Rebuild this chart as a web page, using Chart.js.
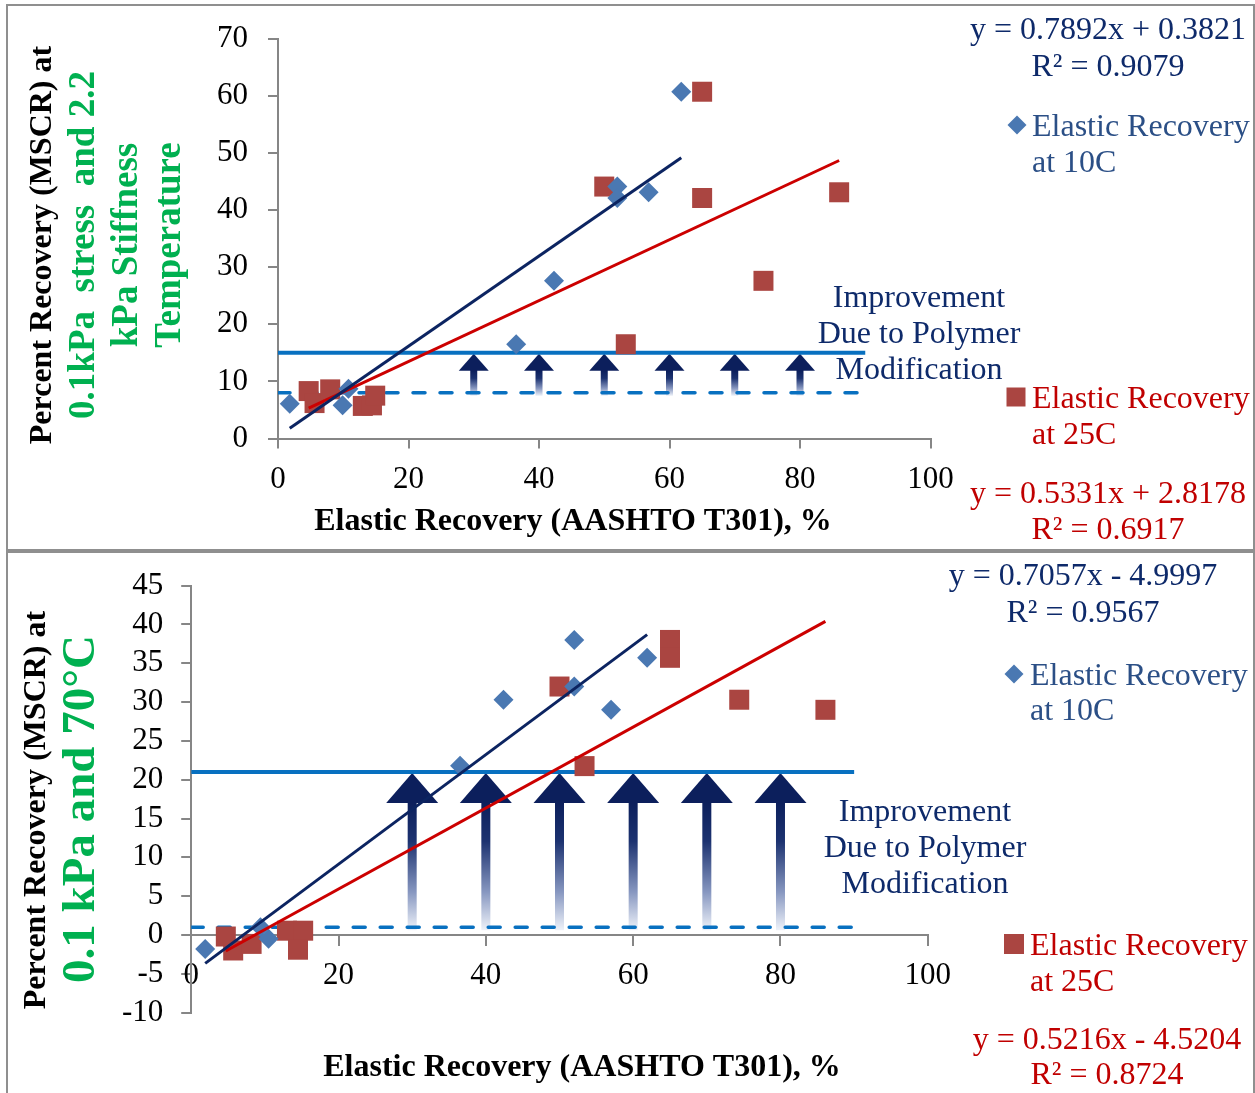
<!DOCTYPE html>
<html>
<head>
<meta charset="utf-8">
<title>MSCR recovery vs elastic recovery</title>
<script src="https://cdn.jsdelivr.net/npm/chart.js@4.4.1/dist/chart.umd.min.js"></script>
<style>
  body { margin: 0; background: #fff; }
  #page { position: relative; width: 1255px; height: 1093px; overflow: hidden; }
  #page canvas { position: absolute; left: 0; }
  .frame { position: absolute; left: 6px; width: 1249px; border: 2px solid #8f8f8f; box-sizing: border-box; pointer-events: none; }
</style>
</head>
<body>
<div id="page">
  <canvas id="mscrUpper" width="1255" height="549" style="top:0"></canvas>
  <canvas id="mscrLower" width="1255" height="544" style="top:549px"></canvas>
  <div class="frame" style="top:4px;height:547px"></div>
  <div class="frame" style="top:551px;height:560px"></div>
</div>
<script>
// x = elastic recovery (AASHTO T301), y = MSCR percent recovery
// upper plot: 0.1 kPa stress at the 2.2 kPa stiffness temperature
const er10C_upper   = [1.8, 9.9, 10.8, 36.5, 42.3, 52.0, 52.0, 56.8, 61.8];
const mscr10C_upper = [6.1, 5.8, 8.7, 16.5, 27.6, 44.1, 42.1, 43.1, 60.7];
const er25C_upper   = [4.7, 5.6, 8.0, 13.0, 14.4, 14.9, 50.0, 53.3, 65.0, 65.0, 74.4, 86.0];
const mscr25C_upper = [8.3, 6.2, 8.6, 5.7, 5.8, 7.5, 44.1, 16.5, 60.7, 42.1, 27.6, 43.1];
const fit10C_upper  = [0.7892, 0.3821, 0.9079];   // slope, intercept, R²
const fit25C_upper  = [0.5331, 2.8178, 0.6917];
const limits_upper  = [8, 15];                     // unmodified / modified recovery

// lower plot: 0.1 kPa at 70°C
const er10C_lower   = [1.9, 9.4, 10.5, 36.5, 42.4, 52.0, 52.0, 57.0, 61.9];
const mscr10C_lower = [-1.8, 1.0, -0.5, 21.8, 30.3, 38.0, 32.0, 29.0, 35.7];
const er25C_lower   = [4.7, 5.7, 8.2, 13.0, 15.2, 14.5, 50.0, 53.4, 65.0, 65.0, 74.4, 86.1];
const mscr25C_lower = [-0.2, -2.0, -1.15, 0.55, 0.55, -1.9, 32.0, 21.75, 38.0, 35.7, 30.3, 29.0];
const fit10C_lower  = [0.7057, -4.9997, 0.9567];
const fit25C_lower  = [0.5216, -4.5204, 0.8724];
const limits_lower  = [1, 21];

const arrowAt   = [30, 40, 50, 60, 70, 80];
const limitSpan = [0, 90];
const xRange       = [0, 100, 20];   // min, max, step
const yRange_upper = [0, 70, 10];
const yRange_lower = [-10, 45, 5];

Chart.defaults.font.family = "'Liberation Serif', 'Times New Roman', serif";
Chart.defaults.color = '#000';

const SERIF = "'Liberation Serif', 'Times New Roman', serif";
const NAVY = '#0e2a6a', LEGEND_BLUE = '#2b4f86', RED_TXT = '#c00000', GREEN = '#00b050';
const DIAMOND = '#4a78b2', SQUARE = '#aa4541', LIMIT = '#0870c0';
const FIT10 = '#0c2461', FIT25 = '#cc0000', AXIS = '#868686', ARROW = '#0c1f5c';

function pairs(xs, ys) { return xs.map((x, i) => ({ x: x, y: ys[i] })); }

// trendline across the x range of its series
function fitLine(xs, fit) {
  const lo = Math.min(...xs), hi = Math.max(...xs);
  return [{ x: lo, y: fit[0] * lo + fit[1] }, { x: hi, y: fit[0] * hi + fit[1] }];
}
function eqText(fit) {
  const sign = fit[1] < 0 ? ' - ' : ' + ';
  return 'y = ' + fit[0].toFixed(4) + 'x' + sign + Math.abs(fit[1]).toFixed(4);
}
function r2Text(fit) { return 'R\u00B2 = ' + fit[2].toFixed(4); }

// gradient "improvement" arrows from the lower limit up to the upper one
function arrowsPlugin(limits, head, shaft) {
  return {
    id: 'arrows',
    beforeDatasetsDraw(chart) {
      const { ctx, scales: { x, y } } = chart;
      const yTip = y.getPixelForValue(limits[1]) + 1;
      const yNeck = yTip + head.len;
      const yBase = y.getPixelForValue(limits[0]) + 3;
      ctx.save();
      arrowAt.forEach(v => {
        const px = x.getPixelForValue(v);
        const g = ctx.createLinearGradient(0, yNeck, 0, yBase);
        g.addColorStop(0, ARROW);
        g.addColorStop(0.3, '#1c3270');
        g.addColorStop(0.7, '#8797c0');
        g.addColorStop(1, '#eef2f9');
        ctx.fillStyle = g;
        ctx.fillRect(px - shaft / 2, yNeck - 1, shaft, yBase - yNeck + 1);
        ctx.fillStyle = ARROW;
        ctx.beginPath();
        ctx.moveTo(px, yTip);
        ctx.lineTo(px + head.half, yNeck);
        ctx.lineTo(px - head.half, yNeck);
        ctx.closePath();
        ctx.fill();
      });
      ctx.restore();
    }
  };
}

// titles, equations and legend, placed in page coordinates
function labelsPlugin(items, markers, offset) {
  return {
    id: 'labels',
    afterDraw(chart) {
      const ctx = chart.ctx;
      items.forEach(it => {
        ctx.save();
        ctx.font = it.font;
        ctx.fillStyle = it.color;
        ctx.textAlign = it.align || 'center';
        ctx.textBaseline = 'middle';
        if (it.vertical) {
          ctx.translate(it.x, it.y - offset);
          ctx.rotate(-Math.PI / 2);
        } else {
          ctx.translate(it.x, it.y - offset + 2);
        }
        ctx.fillText(it.text, 0, 0);
        ctx.restore();
      });
      markers.forEach(m => {
        const cy = m.y - offset;
        ctx.save();
        ctx.fillStyle = m.color;
        ctx.beginPath();
        if (m.shape === 'diamond') {
          ctx.moveTo(m.x, cy - m.r);
          ctx.lineTo(m.x + m.r, cy);
          ctx.lineTo(m.x, cy + m.r);
          ctx.lineTo(m.x - m.r, cy);
          ctx.closePath();
        } else {
          ctx.rect(m.x - m.r, cy - m.r, 2 * m.r, 2 * m.r);
        }
        ctx.fill();
        ctx.restore();
      });
    }
  };
}

function buildPanel(canvasId, d) {
  const tickFont = { family: SERIF, size: 31 };
  return new Chart(document.getElementById(canvasId), {
    type: 'scatter',
    data: {
      datasets: [
        { type: 'line', data: fitLine(d.er10, d.fit10), borderColor: FIT10, borderWidth: 3,
          pointRadius: 0, fill: false, order: 0 },
        { type: 'line', data: fitLine(d.er25, d.fit25), borderColor: FIT25, borderWidth: 3,
          pointRadius: 0, fill: false, order: 0 },
        { label: 'Elastic Recovery at 10C', data: pairs(d.er10, d.mscr10), pointStyle: 'rectRot',
          pointRadius: 10, backgroundColor: DIAMOND, borderWidth: 0, order: 1, clip: false },
        { label: 'Elastic Recovery at 25C', data: pairs(d.er25, d.mscr25), pointStyle: 'rect',
          pointRadius: 14.14, backgroundColor: SQUARE, borderWidth: 0, order: 2, clip: false },
        { type: 'line', data: limitSpan.map(x => ({ x: x, y: d.limits[1] })), borderColor: LIMIT,
          borderWidth: 4, pointRadius: 0, fill: false, order: 3 },
        { type: 'line', data: limitSpan.map(x => ({ x: x, y: d.limits[0] })), borderColor: LIMIT,
          borderWidth: 3.5, borderDash: [12, 15], borderCapStyle: 'round', pointRadius: 0,
          fill: false, order: 3 }
      ]
    },
    options: {
      responsive: false,
      animation: false,
      events: [],
      layout: { padding: d.padding },
      plugins: { legend: { display: false }, tooltip: { enabled: false } },
      scales: {
        x: {
          type: 'linear',
          position: d.xPosition,
          min: xRange[0], max: xRange[1],
          ticks: { stepSize: xRange[2], autoSkip: false, maxRotation: 0, padding: d.xTickPad, font: tickFont, color: '#000' },
          grid: { drawOnChartArea: false, tickLength: 10, color: AXIS, lineWidth: 2 },
          border: { color: AXIS, width: 2 },
          afterFit: s => { s.height = 60; }
        },
        y: {
          type: 'linear',
          min: d.yRange[0], max: d.yRange[1],
          ticks: { stepSize: d.yRange[2], autoSkip: false, padding: d.yTickPad, font: tickFont, color: '#000' },
          grid: { drawOnChartArea: false, tickLength: 10, color: AXIS, lineWidth: 2 },
          border: { color: AXIS, width: 2 },
          afterFit: s => { s.width = 100; }
        }
      }
    },
    plugins: [arrowsPlugin(d.limits, d.head, d.shaft), labelsPlugin(d.items, d.markers, d.offset)]
  });
}

const B32 = 'bold 32px ' + SERIF;
const B37 = 'bold 37px ' + SERIF;
const R32 = '32px ' + SERIF;

buildPanel('mscrUpper', {
  er10: er10C_upper, mscr10: mscr10C_upper, er25: er25C_upper, mscr25: mscr25C_upper,
  fit10: fit10C_upper, fit25: fit25C_upper, limits: limits_upper, yRange: yRange_upper,
  padding: { left: 178, right: 324.5, top: 36.5, bottom: 50.5 },
  xPosition: 'bottom', xTickPad: 13, yTickPad: 20,
  head: { len: 17, half: 15 }, shaft: 7, offset: 0,
  items: [
    { text: 'Percent Recovery (MSCR) at', x: 43, y: 245, font: B32, color: '#000', vertical: true },
    { text: '0.1kPa  stress  and 2.2', x: 84, y: 245, font: B37, color: GREEN, vertical: true },
    { text: 'kPa Stiffness', x: 127, y: 245, font: B37, color: GREEN, vertical: true },
    { text: 'Temperature', x: 170, y: 245, font: B37, color: GREEN, vertical: true },
    { text: 'Elastic Recovery (AASHTO T301), %', x: 573, y: 520, font: B32, color: '#000' },
    { text: 'Improvement', x: 919, y: 297, font: R32, color: NAVY },
    { text: 'Due to Polymer', x: 919, y: 333, font: R32, color: NAVY },
    { text: 'Modification', x: 919, y: 369, font: R32, color: NAVY },
    { text: eqText(fit10C_upper), x: 1108, y: 29, font: R32, color: NAVY },
    { text: r2Text(fit10C_upper), x: 1108, y: 66, font: R32, color: NAVY },
    { text: 'Elastic Recovery', x: 1032, y: 126, font: R32, color: LEGEND_BLUE, align: 'left' },
    { text: 'at 10C', x: 1032, y: 162, font: R32, color: LEGEND_BLUE, align: 'left' },
    { text: 'Elastic Recovery', x: 1032, y: 398, font: R32, color: RED_TXT, align: 'left' },
    { text: 'at 25C', x: 1032, y: 434, font: R32, color: RED_TXT, align: 'left' },
    { text: eqText(fit25C_upper), x: 1108, y: 493, font: R32, color: RED_TXT },
    { text: r2Text(fit25C_upper), x: 1108, y: 529, font: R32, color: RED_TXT }
  ],
  markers: [
    { shape: 'diamond', x: 1017, y: 125, r: 9.5, color: DIAMOND },
    { shape: 'square', x: 1016, y: 397, r: 9.5, color: SQUARE }
  ]
});

buildPanel('mscrLower', {
  er10: er10C_lower, mscr10: mscr10C_lower, er25: er25C_lower, mscr25: mscr25C_lower,
  fit10: fit10C_lower, fit25: fit25C_lower, limits: limits_lower, yRange: yRange_lower,
  padding: { left: 91.2, right: 327.2, top: 33, bottom: 80.4 },
  xPosition: { y: 0 }, xTickPad: 12, yTickPad: 18,
  head: { len: 30, half: 26 }, shaft: 9, offset: 549,
  items: [
    { text: 'Percent Recovery (MSCR) at', x: 37, y: 810, font: B32, color: '#000', vertical: true },
    { text: '0.1 kPa and 70\u00B0C', x: 82, y: 809, font: 'bold 47px ' + SERIF, color: GREEN, vertical: true },
    { text: 'Elastic Recovery (AASHTO T301), %', x: 582, y: 1066, font: B32, color: '#000' },
    { text: 'Improvement', x: 925, y: 811, font: R32, color: NAVY },
    { text: 'Due to Polymer', x: 925, y: 847, font: R32, color: NAVY },
    { text: 'Modification', x: 925, y: 883, font: R32, color: NAVY },
    { text: eqText(fit10C_lower), x: 1083, y: 575, font: R32, color: NAVY },
    { text: r2Text(fit10C_lower), x: 1083, y: 612, font: R32, color: NAVY },
    { text: 'Elastic Recovery', x: 1030, y: 675, font: R32, color: LEGEND_BLUE, align: 'left' },
    { text: 'at 10C', x: 1030, y: 710, font: R32, color: LEGEND_BLUE, align: 'left' },
    { text: 'Elastic Recovery', x: 1030, y: 945, font: R32, color: RED_TXT, align: 'left' },
    { text: 'at 25C', x: 1030, y: 981, font: R32, color: RED_TXT, align: 'left' },
    { text: eqText(fit25C_lower), x: 1107, y: 1039, font: R32, color: RED_TXT },
    { text: r2Text(fit25C_lower), x: 1107, y: 1074, font: R32, color: RED_TXT }
  ],
  markers: [
    { shape: 'diamond', x: 1014, y: 674, r: 9.5, color: DIAMOND },
    { shape: 'square', x: 1014, y: 944, r: 10, color: SQUARE }
  ]
});
</script>
</body>
</html>
